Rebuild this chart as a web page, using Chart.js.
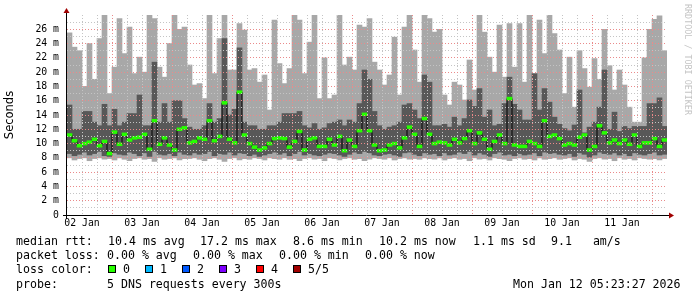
<!DOCTYPE html>
<html>
<head>
<meta charset="utf-8">
<script src="https://cdn.jsdelivr.net/npm/chart.js@4"></script>
<style>
  body { margin: 0; background: #fff; }
  #wrap { position: relative; width: 697px; height: 297px; overflow: hidden; }
  canvas { position: absolute; left: 0; top: 0; }
  .t { position: absolute; font-family: 'DejaVu Sans Mono', monospace; font-size: 11.6px; line-height: 14px; white-space: pre; color: #000; }
  .box { position: absolute; width: 6px; height: 6px; border: 1px solid #000; }
  #brand { position: absolute; left: 683px; top: 4px; width: 10px; writing-mode: vertical-rl;
           font-family: 'DejaVu Sans Mono', monospace; font-size: 8.4px; line-height: 10px; color: #c4c4c4; white-space: pre; }
</style>
</head>
<body>
<div id="wrap">
  <canvas id="smoke" width="697" height="297"></canvas>
  <div id="brand">RRDTOOL / TOBI OETIKER</div>

  <div class="t" style="left:16px;top:234px">median rtt:</div>
  <div class="t" style="left:108px;top:234px">10.4 ms avg</div>
  <div class="t" style="left:200px;top:234px">17.2 ms max</div>
  <div class="t" style="left:293px;top:234px">8.6 ms min</div>
  <div class="t" style="left:379px;top:234px">10.2 ms now</div>
  <div class="t" style="left:473px;top:234px">1.1 ms sd</div>
  <div class="t" style="left:551px;top:234px">9.1   am/s</div>

  <div class="t" style="left:16px;top:248px">packet loss:</div>
  <div class="t" style="left:107px;top:248px">0.00 % avg</div>
  <div class="t" style="left:193px;top:248px">0.00 % max</div>
  <div class="t" style="left:279px;top:248px">0.00 % min</div>
  <div class="t" style="left:365px;top:248px">0.00 % now</div>

  <div class="t" style="left:16px;top:262px">loss color:</div>
  <div id="lossLegend"></div>

  <div class="t" style="left:16px;top:277px">probe:</div>
  <div class="t" style="left:107px;top:277px">5 DNS requests every 300s</div>
  <div class="t" style="left:513px;top:277px">Mon Jan 12 05:23:27 2026</div>
</div>
<script>
// 10 days shown (Jan 2 06:00 -> Jan 12 06:00), one bin = 2 hours, 120 bins
const binHours = 2;
const dayLabels = ['02 Jan', '03 Jan', '04 Jan', '05 Jan', '06 Jan', '07 Jan', '08 Jan', '09 Jan', '10 Jan', '11 Jan'];

// median rtt (ms)
const median = [
  11.2, 10.4, 9.7, 10.0, 10.2, 10.6, 9.7, 10.3, 8.6, 11.6, 9.9, 11.3, 10.5, 10.8, 10.9, 11.3, 9.2, 13.2, 9.9, 10.8, 9.8, 9.1, 12.0, 12.2,
  10.1, 10.3, 10.8, 10.6, 13.2, 10.4, 11.0, 15.7, 10.6, 10.1, 17.2, 11.2, 10.0, 9.5, 9.1, 9.4, 10.0, 10.7, 10.8, 10.7, 9.5, 10.3, 11.7, 9.1,
  10.6, 10.8, 9.6, 9.6, 10.6, 9.8, 11.0, 9.0, 10.5, 9.6, 11.8, 14.1, 11.8, 9.8, 9.0, 9.1, 9.8, 10.0, 9.4, 10.8, 12.3, 11.3, 9.6, 13.5,
  11.3, 10.0, 10.2, 10.1, 9.8, 10.6, 10.1, 10.7, 11.8, 10.0, 11.5, 10.6, 9.2, 10.3, 11.2, 10.0, 16.3, 9.8, 9.6, 9.6, 10.3, 10.0, 9.6, 13.2, 11.0, 11.2, 10.7,
  9.8, 10.0, 9.8, 10.9, 11.2, 9.1, 9.6, 12.5, 11.5, 10.1, 10.5, 10.0, 10.5, 9.9, 11.2, 9.6, 10.1, 10.1, 10.7, 9.6, 10.5
];
// smoke: lowest ping (ms)
const pingMin = [
  8.0, 7.7, 7.9, 8.0, 7.6, 7.9, 8.0, 7.8, 7.9, 7.7, 8.0, 7.8, 7.6, 7.9, 8.0, 7.8, 7.9, 7.5, 8.0, 7.8, 7.9, 8.0, 7.7, 7.9,
  7.9, 8.0, 7.8, 7.6, 7.9, 8.0, 7.8, 7.5, 7.9, 8.0, 7.7, 7.9, 7.8, 8.0, 7.9, 7.7, 8.0, 7.9, 7.8, 8.0, 7.8, 7.9, 7.6, 7.9,
  8.0, 7.8, 7.9, 7.6, 8.0, 7.9, 7.7, 7.9, 8.0, 7.8, 7.9, 7.6, 7.8, 8.0, 7.9, 7.8, 8.0, 7.7, 7.9, 8.0, 7.8, 7.9, 7.8, 8.0,
  7.9, 7.8, 8.0, 7.7, 7.9, 8.0, 7.8, 7.9, 7.6, 8.0, 7.8, 7.9, 7.7, 8.0, 7.9, 7.8, 7.6, 7.9, 8.0, 7.8, 7.9, 7.7, 8.0, 7.8, 7.9, 8.0, 7.8,
  7.9, 8.0, 7.7, 7.9, 7.8, 7.5, 7.9, 8.0, 7.8, 7.9, 7.6, 8.0, 7.8, 7.9, 7.7, 8.0, 7.9, 7.8, 7.9, 7.7, 7.9
];
// smoke: second ping (ms)
const pingLow = [
  8.6, 8.3, 8.5, 8.8, 8.4, 8.6, 8.9, 8.3, 8.2, 8.7, 8.5, 8.4, 8.8, 8.6, 8.3, 8.7, 8.2, 8.9, 8.5, 8.4, 8.6, 8.3, 8.8, 8.5,
  8.4, 8.7, 8.5, 8.6, 8.9, 8.3, 8.6, 8.5, 8.8, 8.4, 8.7, 8.6, 8.3, 8.5, 8.2, 8.4, 8.6, 8.8, 8.5, 8.7, 8.3, 8.6, 8.9, 8.4,
  8.6, 8.4, 8.3, 8.5, 8.7, 8.6, 8.4, 8.2, 8.5, 8.8, 8.6, 8.9, 8.7, 8.4, 8.3, 8.5, 8.6, 8.4, 8.2, 8.7, 8.8, 8.5, 8.3, 8.7,
  8.5, 8.6, 8.3, 8.7, 8.4, 8.5, 8.8, 8.6, 8.9, 8.4, 8.7, 8.5, 8.2, 8.6, 8.8, 8.4, 8.5, 8.3, 8.6, 8.4, 8.5, 8.7, 8.3, 8.8, 8.6, 8.7, 8.5,
  8.4, 8.6, 8.2, 8.7, 8.5, 8.1, 8.4, 8.8, 8.6, 8.5, 8.7, 8.4, 8.6, 8.3, 8.7, 8.5, 8.4, 8.6, 8.8, 8.4, 8.5
];
// smoke: fourth ping (ms)
const pingHigh = [
  15.4, 12.0, 12.0, 14.5, 14.5, 13.0, 12.5, 15.5, 12.5, 14.8, 12.5, 13.0, 14.2, 14.2, 16.8, 12.5, 12.5, 21.4, 13.0, 15.6, 13.0, 16.0, 16.0, 13.5,
  12.3, 12.0, 12.0, 12.5, 15.6, 13.0, 13.5, 24.7, 14.0, 14.8, 23.4, 13.0, 12.5, 12.5, 12.0, 12.0, 12.5, 12.5, 13.0, 14.2, 14.2, 14.2, 14.5, 12.5,
  12.2, 12.8, 12.0, 12.2, 12.8, 13.0, 13.3, 12.5, 13.3, 13.0, 15.6, 20.3, 19.0, 14.5, 12.5, 12.0, 12.3, 12.5, 13.0, 15.4, 15.6, 14.7, 13.5, 19.6,
  18.6, 12.5, 12.5, 12.7, 12.3, 13.7, 12.5, 13.5, 16.1, 15.2, 17.7, 13.7, 14.7, 12.5, 12.7, 15.6, 19.3, 15.5, 14.7, 13.3, 13.3, 19.8, 14.7, 17.7, 15.8, 13.7, 12.7,
  12.1, 11.8, 12.6, 17.5, 11.5, 12.3, 13.0, 15.1, 20.3, 12.0, 14.4, 11.7, 12.4, 12.1, 12.4, 12.4, 12.4, 15.6, 15.6, 16.4, 12.4
];
// smoke: highest ping (ms)
const pingMax = [
  25.5, 23.5, 23.0, 18.0, 24.0, 19.0, 24.7, 28.0, 17.0, 20.7, 27.5, 22.6, 26.3, 19.8, 22.1, 20.0, 28.0, 27.5, 20.7, 19.3, 24.0, 28.0, 26.0, 26.3,
  21.0, 18.2, 18.4, 16.3, 28.0, 19.8, 24.7, 28.0, 20.3, 20.3, 26.8, 25.9, 20.3, 20.5, 18.6, 19.6, 14.7, 27.3, 21.2, 18.4, 20.5, 28.0, 27.3, 19.8,
  24.2, 28.0, 16.3, 22.0, 16.3, 16.8, 28.0, 21.0, 22.1, 20.3, 26.6, 26.3, 27.5, 21.4, 20.3, 18.2, 19.6, 24.9, 16.8, 26.3, 28.0, 23.1, 18.6, 28.0,
  27.5, 25.6, 26.0, 16.8, 15.4, 18.6, 18.2, 16.1, 21.7, 17.5, 28.0, 25.6, 22.1, 20.0, 26.6, 19.3, 26.8, 20.7, 26.8, 18.6, 28.0, 19.3, 27.3, 22.6, 28.0, 25.4, 23.1,
  17.0, 22.1, 15.1, 23.0, 20.5, 17.9, 21.9, 19.0, 26.0, 20.9, 17.5, 20.3, 18.2, 15.1, 13.0, 13.0, 22.0, 26.0, 27.4, 27.9, 23.0
];

const lossColors = ['#26ff00', '#00b8ff', '#0059ff', '#7e00ff', '#ff0000', '#a00000'];
const lossLabels = ['0', '1', '2', '3', '4', '5/5'];

// loss color legend
const boxX = [108, 145, 182, 219, 256, 293];
const lossDiv = document.getElementById('lossLegend');
lossColors.forEach((c, i) => {
  const b = document.createElement('div');
  b.className = 'box';
  b.style.left = boxX[i] + 'px';
  b.style.top = '265px';
  b.style.background = c;
  lossDiv.appendChild(b);
  const t = document.createElement('div');
  t.className = 't';
  t.style.left = (boxX[i] + 15) + 'px';
  t.style.top = '262px';
  t.textContent = lossLabels[i];
  lossDiv.appendChild(t);
});

const xc = i => i * binHours + binHours / 2;
const band = (a, b) => a.map((v, i) => ({ x: xc(i), y: [v, b[i]] }));

const MINOR = '#c4c4c4';
const MAJOR = '#ea8a8a';
const tickFont = { family: 'DejaVu Sans Mono', size: 9.8 };

// axis lines with the little red arrows
const axisArrows = {
  id: 'axisArrows',
  afterDraw(chart) {
    const { ctx, chartArea: a } = chart;
    ctx.save();
    ctx.strokeStyle = '#000';
    ctx.lineWidth = 1;
    ctx.beginPath();
    ctx.moveTo(a.left - 4, a.bottom + 0.5);
    ctx.lineTo(a.right + 3, a.bottom + 0.5);
    ctx.moveTo(a.left - 0.5, a.bottom + 4);
    ctx.lineTo(a.left - 0.5, a.top - 3);
    ctx.stroke();
    ctx.fillStyle = '#a00000';
    ctx.beginPath();
    ctx.moveTo(a.right + 2, a.bottom - 2.5);
    ctx.lineTo(a.right + 7, a.bottom + 0.5);
    ctx.lineTo(a.right + 2, a.bottom + 3.5);
    ctx.closePath();
    ctx.fill();
    ctx.beginPath();
    ctx.moveTo(a.left - 3.5, a.top - 2);
    ctx.lineTo(a.left - 0.5, a.top - 7);
    ctx.lineTo(a.left + 2.5, a.top - 2);
    ctx.closePath();
    ctx.fill();
    ctx.restore();
  }
};

new Chart(document.getElementById('smoke'), {
  type: 'bar',
  data: {
    datasets: [
      {
        label: 'median',
        data: median.map((m, i) => ({ x: xc(i), y: [m - 0.2, m + 0.2] })),
        backgroundColor: lossColors[0],
        grouped: false, barPercentage: 1, categoryPercentage: 1, borderWidth: 0,
        order: 0
      },
      {
        type: 'line',
        label: 'median line',
        data: median.map((m, i) => ({ x: xc(i), y: m })),
        borderColor: '#000',
        borderWidth: 1,
        stepped: 'middle',
        pointRadius: 0,
        order: 1
      },
      {
        label: 'inner smoke',
        data: band(pingLow, pingHigh),
        backgroundColor: '#585858',
        grouped: false, barPercentage: 1, categoryPercentage: 1, borderWidth: 0,
        order: 2
      },
      {
        label: 'outer smoke',
        data: band(pingMin, pingMax),
        backgroundColor: '#a8a8a8',
        grouped: false, barPercentage: 1, categoryPercentage: 1, borderWidth: 0,
        order: 3
      }
    ]
  },
  options: {
    responsive: false,
    animation: false,
    devicePixelRatio: 1,
    layout: { padding: { left: 0, right: 30, top: 15, bottom: 0 } },
    plugins: { legend: { display: false }, tooltip: { enabled: false } },
    scales: {
      x: {
        type: 'linear',
        min: 0,
        max: 240,
        offset: false,
        afterFit: s => { s.height = 82; },
        afterBuildTicks: s => {
          const t = [];
          for (let h = 6; h < 240; h += 6) t.push({ value: h });
          s.ticks = t;
        },
        ticks: {
          autoSkip: false,
          maxRotation: 0,
          padding: 3,
          color: '#000',
          font: tickFont,
          callback: v => ((v - 6) % 24 === 0 ? dayLabels[(v - 6) / 24] : '')
        },
        grid: {
          offset: false,
          z: 1,
          drawTicks: false,
          color: c => ((c.tick.value - 18) % 24 === 0 ? MAJOR : MINOR)
        },
        border: { display: false, dash: [1, 2] }
      },
      y: {
        min: 0,
        max: 28,
        afterFit: s => { s.width = 67; },
        afterBuildTicks: s => {
          const t = [];
          for (let v = 0; v <= 28; v++) t.push({ value: v });
          s.ticks = t;
        },
        ticks: {
          autoSkip: false,
          padding: 8,
          color: '#000',
          font: tickFont,
          callback: v => (v === 0 ? '0' : (v % 2 === 0 && v <= 26 ? v + ' m' : ''))
        },
        title: {
          display: true,
          text: 'Seconds',
          color: '#000',
          font: { family: 'DejaVu Sans', size: 11.5 },
          padding: { top: 3, bottom: 0 }
        },
        grid: {
          z: 1,
          drawTicks: false,
          color: c => {
            const v = c.tick.value;
            if (v === 0 || v === 28) return 'rgba(0,0,0,0)';
            return v % 2 === 0 ? MAJOR : MINOR;
          }
        },
        border: { display: false, dash: [1, 2] }
      }
    }
  },
  plugins: [axisArrows]
});
</script>
</body>
</html>
